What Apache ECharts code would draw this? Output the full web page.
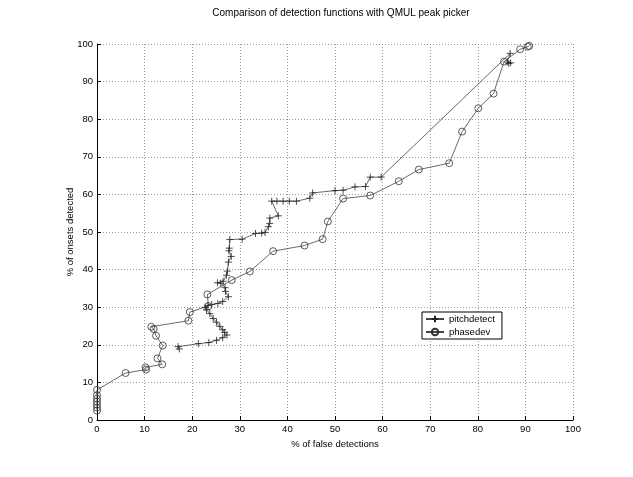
<!DOCTYPE html>
<html>
<head>
<meta charset="utf-8">
<script src="https://cdn.jsdelivr.net/npm/echarts@6/dist/echarts.min.js"></script>
<style>
  html, body { margin: 0; padding: 0; background: #fff; }
  #charts_main { width: 633px; height: 477px; }
</style>
</head>
<body>
<div id="charts_main"></div>
<script>
// values: [% false detections, % onsets detected]
const pitchdetect = [
  [17.3, 18.9], [17.0, 19.5], [21.3, 20.3], [23.5, 20.6], [25.1, 21.2], [26.4, 21.9],
  [27.3, 22.6], [26.8, 23.3], [26.4, 24.0], [25.8, 24.9], [25.1, 26.0], [24.4, 27.0],
  [23.7, 28.3], [23.0, 29.3], [22.7, 30.0], [23.3, 30.4], [24.1, 30.7], [25.4, 31.0],
  [26.4, 31.5], [27.6, 32.8], [27.0, 34.2], [26.9, 35.2], [26.0, 36.4], [25.3, 36.5],
  [26.5, 36.9], [27.2, 38.5], [27.4, 39.6], [27.6, 42.0], [28.2, 43.5], [27.7, 45.0],
  [27.8, 45.7], [27.9, 48.0], [30.5, 48.1], [33.3, 49.6], [34.6, 49.7], [35.3, 49.9],
  [36.0, 51.4], [36.3, 52.3], [36.3, 53.7], [38.1, 54.3], [36.7, 58.2], [37.8, 58.2],
  [39.1, 58.2], [40.4, 58.2], [41.9, 58.2], [44.7, 59.0], [45.3, 60.4], [50.0, 61.0],
  [51.7, 61.1], [54.2, 62.0], [56.4, 62.1], [57.4, 64.6], [59.7, 64.6], [86.8, 97.5],
  [86.2, 95.2], [86.5, 94.8], [86.9, 95.0]
];

const phasedev = [
  [0, 2.5], [0, 3.3], [0, 4.1], [0, 4.9], [0, 5.7], [0, 6.6], [0, 8.0],
  [6.0, 12.5], [10.3, 13.4], [10.2, 14.0], [13.7, 14.8], [12.7, 16.4], [13.8, 19.8],
  [12.4, 22.4], [11.9, 24.2], [11.4, 24.8], [19.2, 26.4], [19.5, 28.7], [23.4, 30.3],
  [23.2, 33.4], [28.3, 37.2], [32.1, 39.5], [37.0, 44.9], [43.6, 46.4], [47.4, 48.1],
  [48.5, 52.8], [51.7, 58.9], [57.4, 59.7], [63.4, 63.5], [67.6, 66.6], [74.0, 68.3],
  [76.7, 76.7], [80.1, 82.9], [83.3, 86.8], [85.5, 95.3], [88.9, 98.6], [90.5, 99.3],
  [90.8, 99.5]
];

const seriesNames = ['pitchdetect', 'phasedev'];
const axisTicks = [0, 10, 20, 30, 40, 50, 60, 70, 80, 90, 100];

const FONT = '"Liberation Sans", Arial, sans-serif';
const plusPath = 'path://M0,5L10,5M5,0L5,10';

const chart = echarts.init(document.getElementById('charts_main'), null, {renderer: 'canvas'});

const axisCommon = {
  type: 'value',
  min: axisTicks[0],
  max: axisTicks[axisTicks.length - 1],
  interval: 10,
  axisLine: {show: true, onZero: false, lineStyle: {color: '#000', width: 1}},
  axisTick: {show: true, inside: true, length: 4, lineStyle: {color: '#000'}},
  axisLabel: {color: '#000', fontSize: 9.5, fontFamily: FONT, margin: 4},
  splitLine: {show: true, lineStyle: {color: '#999', type: [1, 2], width: 1}},
  nameTextStyle: {color: '#000', fontSize: 9.5, fontFamily: FONT}
};

const option = {
  backgroundColor: '#fff',
  animation: false,
  title: {
    text: 'Comparison of detection functions with QMUL peak picker',
    left: 336,
    textAlign: 'center',
    top: 3,
    textStyle: {color: '#000', fontSize: 10, fontWeight: 'normal', fontFamily: FONT}
  },
  grid: {left: 97, right: 60, top: 44, bottom: 57, containLabel: false},
  legend: {
    data: seriesNames,
    orient: 'vertical',
    left: 422,
    top: 312,
    itemWidth: 18,
    itemHeight: 8,
    itemGap: 3,
    padding: [2, 7, 2, 3],
    borderColor: '#000',
    borderWidth: 1,
    backgroundColor: '#fff',
    textStyle: {color: '#000', fontSize: 9.5, fontFamily: FONT}
  },
  xAxis: Object.assign({}, axisCommon, {
    name: '% of false detections',
    nameLocation: 'middle',
    nameGap: 16
  }),
  yAxis: Object.assign({}, axisCommon, {
    name: '% of onsets detected',
    nameLocation: 'middle',
    nameMoveOverlap: false,
    nameGap: 22
  }),
  series: [
    {
      name: seriesNames[0],
      type: 'line',
      data: pitchdetect,
      symbol: plusPath,
      symbolSize: 7,
      showAllSymbol: true,
      lineStyle: {color: '#444', width: 0.8},
      itemStyle: {color: '#222', borderColor: '#222', borderWidth: 0.8}
    },
    {
      name: seriesNames[1],
      type: 'line',
      data: phasedev,
      symbol: 'circle',
      symbolSize: 7,
      showAllSymbol: true,
      lineStyle: {color: '#444', width: 0.8},
      itemStyle: {color: 'rgba(255,255,255,0)', borderColor: '#333', borderWidth: 0.8}
    }
  ]
};

chart.setOption(option);
</script>
</body>
</html>
